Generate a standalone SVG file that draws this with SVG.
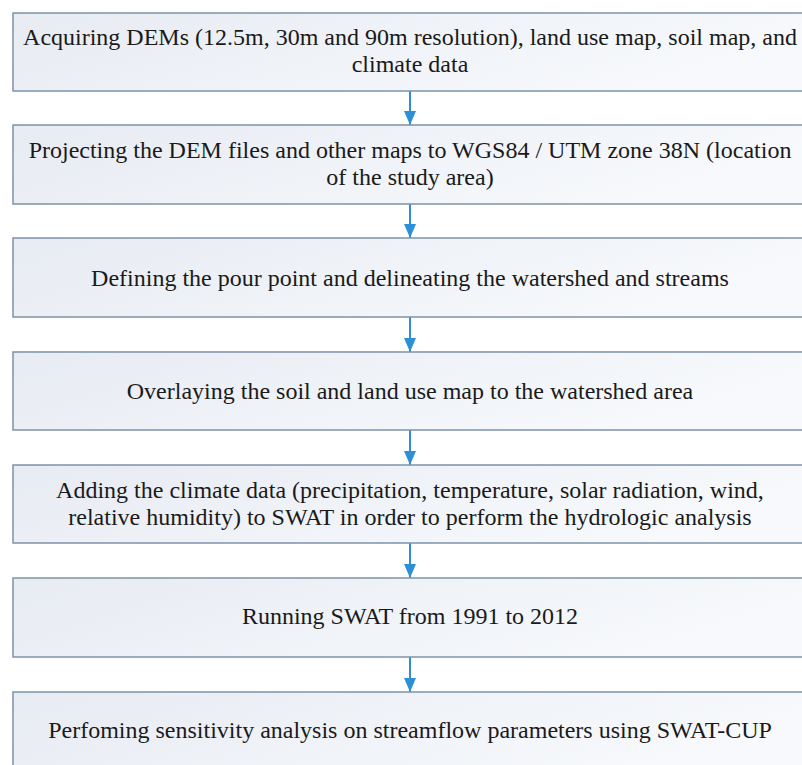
<svg xmlns="http://www.w3.org/2000/svg" width="802" height="765" viewBox="0 0 802 765">
  <defs>
    <linearGradient id="boxFill" x1="0" y1="0" x2="1" y2="0.3">
      <stop offset="0" stop-color="#e7ebf2"/>
      <stop offset="1" stop-color="#f7f9fc"/>
    </linearGradient>
    <marker id="arrowHead" viewBox="0 0 14 12" refX="14" refY="6" markerWidth="14" markerHeight="12" markerUnits="userSpaceOnUse" orient="auto">
      <path d="M0,0 L14,6 L0,12 Z" fill="#2d8fd5"/>
    </marker>
  </defs>
  <rect width="802" height="765" fill="#ffffff"/>

  <!-- vertical flow arrows between consecutive steps -->
  <g id="connectors" stroke="#2d8fd5" stroke-width="2" fill="none" marker-end="url(#arrowHead)">
    <line x1="410" y1="91" x2="410" y2="125"/>
    <line x1="410" y1="204" x2="410" y2="238"/>
    <line x1="410" y1="317" x2="410" y2="352"/>
    <line x1="410" y1="430" x2="410" y2="465"/>
    <line x1="410" y1="543" x2="410" y2="578"/>
    <line x1="410" y1="657" x2="410" y2="692"/>
  </g>

  <g id="step1">
    <rect x="13" y="13" width="796" height="78" fill="url(#boxFill)" stroke="#7d93a8" stroke-width="1.5"/>
    <text font-family="Liberation Serif" font-size="24" fill="#1a1a1a" text-anchor="middle" x="410" y="45">Acquiring DEMs (12.5m, 30m and 90m resolution), land use map, soil map, and</text>
    <text font-family="Liberation Serif" font-size="24" fill="#1a1a1a" text-anchor="middle" x="410" y="72">climate data</text>
  </g>

  <g id="step2">
    <rect x="13" y="125" width="796" height="79" fill="url(#boxFill)" stroke="#7d93a8" stroke-width="1.5"/>
    <text font-family="Liberation Serif" font-size="24" fill="#1a1a1a" text-anchor="middle" x="410" y="158">Projecting the DEM files and other maps to WGS84 / UTM zone 38N (location</text>
    <text font-family="Liberation Serif" font-size="24" fill="#1a1a1a" text-anchor="middle" x="410" y="185">of the study area)</text>
  </g>

  <g id="step3">
    <rect x="13" y="238" width="796" height="79" fill="url(#boxFill)" stroke="#7d93a8" stroke-width="1.5"/>
    <text font-family="Liberation Serif" font-size="24" fill="#1a1a1a" text-anchor="middle" x="410" y="286">Defining the pour point and delineating the watershed and streams</text>
  </g>

  <g id="step4">
    <rect x="13" y="352" width="796" height="78" fill="url(#boxFill)" stroke="#7d93a8" stroke-width="1.5"/>
    <text font-family="Liberation Serif" font-size="24" fill="#1a1a1a" text-anchor="middle" x="410" y="399">Overlaying the soil and land use map to the watershed area</text>
  </g>

  <g id="step5">
    <rect x="13" y="465" width="796" height="78" fill="url(#boxFill)" stroke="#7d93a8" stroke-width="1.5"/>
    <text font-family="Liberation Serif" font-size="24" fill="#1a1a1a" text-anchor="middle" x="410" y="498">Adding the climate data (precipitation, temperature, solar radiation, wind,</text>
    <text font-family="Liberation Serif" font-size="24" fill="#1a1a1a" text-anchor="middle" x="410" y="525">relative humidity) to SWAT in order to perform the hydrologic analysis</text>
  </g>

  <g id="step6">
    <rect x="13" y="578" width="796" height="79" fill="url(#boxFill)" stroke="#7d93a8" stroke-width="1.5"/>
    <text font-family="Liberation Serif" font-size="24" fill="#1a1a1a" text-anchor="middle" x="410" y="624">Running SWAT from 1991 to 2012</text>
  </g>

  <g id="step7">
    <rect x="13" y="692" width="796" height="80" fill="url(#boxFill)" stroke="#7d93a8" stroke-width="1.5"/>
    <text font-family="Liberation Serif" font-size="24" fill="#1a1a1a" text-anchor="middle" x="410" y="738">Perfoming sensitivity analysis on streamflow parameters using SWAT-CUP</text>
  </g>
</svg>
